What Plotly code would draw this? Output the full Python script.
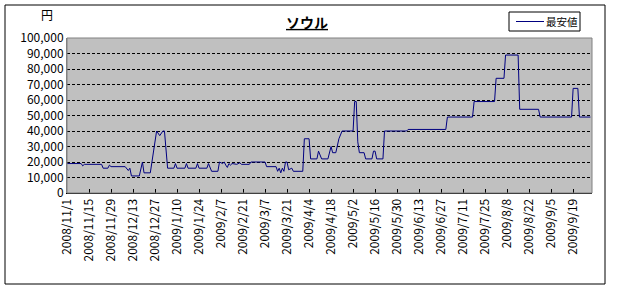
import plotly.graph_objects as go

dates = [
    "2008-11-01", "2008-11-10", "2008-11-11", "2008-11-12", "2008-11-23", "2008-11-24",
    "2008-11-27", "2008-11-28", "2008-11-29", "2008-12-08", "2008-12-10", "2008-12-11",
    "2008-12-12", "2008-12-17", "2008-12-19", "2008-12-20", "2008-12-24", "2008-12-25",
    "2008-12-26", "2008-12-28", "2008-12-30", "2009-01-01", "2009-01-02", "2009-01-04",
    "2009-01-08", "2009-01-09", "2009-01-10", "2009-01-15", "2009-01-16", "2009-01-17",
    "2009-01-22", "2009-01-23", "2009-01-24", "2009-01-29", "2009-01-30", "2009-01-31",
    "2009-02-01", "2009-02-05", "2009-02-06", "2009-02-08", "2009-02-09", "2009-02-10",
    "2009-02-11", "2009-02-12", "2009-02-13", "2009-02-14", "2009-02-17", "2009-02-19",
    "2009-02-20", "2009-02-25", "2009-02-26", "2009-03-07", "2009-03-08", "2009-03-14",
    "2009-03-15", "2009-03-16", "2009-03-17", "2009-03-18", "2009-03-19", "2009-03-20",
    "2009-03-21", "2009-03-22", "2009-03-24", "2009-03-25", "2009-03-31", "2009-04-01",
    "2009-04-04", "2009-04-05", "2009-04-09", "2009-04-10", "2009-04-12", "2009-04-16",
    "2009-04-18", "2009-04-19", "2009-04-21", "2009-04-23", "2009-04-25", "2009-05-02",
    "2009-05-03", "2009-05-04", "2009-05-05", "2009-05-06", "2009-05-09", "2009-05-10",
    "2009-05-14", "2009-05-15", "2009-05-16", "2009-05-17", "2009-05-21", "2009-05-22",
    "2009-06-05", "2009-06-06", "2009-06-30", "2009-07-01", "2009-07-17", "2009-07-18",
    "2009-07-31", "2009-08-01", "2009-08-06", "2009-08-07", "2009-08-15", "2009-08-16",
    "2009-08-28", "2009-08-29", "2009-09-18", "2009-09-19", "2009-09-22", "2009-09-23",
    "2009-09-30",
]
prices = [
    19000, 19000, 17500, 18500, 18500, 16000,
    16000, 18000, 17000, 17000, 14500, 16000,
    11000, 11000, 20000, 13000, 13000, 20000,
    28000, 40000, 37000, 40000, 40000, 16000,
    16000, 19000, 16000, 16000, 19000, 16000,
    16000, 19000, 16000, 16000, 19000, 16000,
    14000, 14000, 20000, 19000, 20000, 18000,
    16500, 19000, 18000, 19000, 18500, 19500,
    18500, 18500, 20000, 20000, 17000, 17000,
    14000, 16000, 13000, 16000, 14000, 20000,
    20000, 15000, 16000, 14000, 14000, 35000,
    35000, 22000, 22000, 27000, 22000, 22000,
    30000, 26000, 26000, 35000, 40000, 40000,
    59000, 59000, 33000, 26000, 26000, 22000,
    22000, 27000, 27000, 22000, 22000, 40000,
    40000, 41000, 41000, 49000, 49000, 59000,
    59000, 74000, 74000, 89000, 89000, 54000,
    54000, 49000, 49000, 67500, 67500, 49000,
    49000,
]

title_text = "ソウル"
series_name = "最安値"
y_unit = "円"

FONT = "Noto Sans CJK JP"
LINE_COLOR = "#000080"

W, H = 617, 290
L, R, T, B = 67, 25, 38, 97
pw, ph = W - L - R, H - T - B

def px_x(x):
    return (x - L) / pw

def px_y(y):
    return (H - B - y) / ph

fig = go.Figure()
fig.add_trace(go.Scatter(
    x=dates, y=prices, mode="lines", name=series_name,
    line=dict(color=LINE_COLOR, width=1), showlegend=False,
))

fig.update_layout(
    width=W, height=H,
    margin=dict(l=L, r=R, t=T, b=B),
    paper_bgcolor="white",
    plot_bgcolor="#C0C0C0",
    font=dict(family=FONT, size=12, color="black"),
    title=dict(text="<b><u>" + title_text + "</u></b>", x=307 / W, xanchor="center",
               y=1 - 23 / H, yanchor="middle", font=dict(size=14, family=FONT)),
    showlegend=False,
    xaxis=dict(
        type="date",
        range=["2008-11-01", "2009-10-01"],
        tick0="2008-11-01", dtick=14 * 86400000,
        tickformat="%Y/%-m/%-d", tickangle=-90,
        ticks="inside", ticklen=4, tickcolor="black",
        showgrid=False, showline=True, linecolor="black", linewidth=1,
        zeroline=False, tickfont=dict(size=12, family=FONT),
    ),
    yaxis=dict(
        range=[0, 100000], dtick=10000, tickformat=",",
        showgrid=True, gridcolor="black", griddash="3px,2px", gridwidth=1,
        showline=True, linecolor="#808080", linewidth=1,
        zeroline=False, ticks="", tickfont=dict(size=12, family=FONT),
    ),
)

# plot area border
fig.add_shape(type="rect", xref="paper", yref="paper", x0=0, y0=0, x1=1, y1=1,
              line=dict(color="#808080", width=1), fillcolor="rgba(0,0,0,0)", layer="above")
# outer chart border
fig.add_shape(type="rect", xref="paper", yref="paper",
              x0=px_x(5), x1=px_x(605), y0=px_y(284), y1=px_y(5),
              line=dict(color="black", width=1), fillcolor="rgba(0,0,0,0)")

# legend box (drawn manually to match the compact Excel legend)
fig.add_shape(type="rect", xref="paper", yref="paper",
              x0=px_x(509), x1=px_x(580), y0=px_y(31), y1=px_y(12),
              line=dict(color="black", width=1), fillcolor="white")
fig.add_shape(type="line", xref="paper", yref="paper",
              x0=px_x(516), x1=px_x(544), y0=px_y(21.5), y1=px_y(21.5),
              line=dict(color=LINE_COLOR, width=1))
fig.add_annotation(text=series_name, xref="paper", yref="paper", x=px_x(544), y=px_y(21.5),
                   showarrow=False, xanchor="left", yanchor="middle",
                   font=dict(size=10.5, family=FONT))

fig.add_annotation(text=y_unit, xref="paper", yref="paper", x=px_x(47), y=px_y(15),
                   showarrow=False, xanchor="center", yanchor="middle",
                   font=dict(size=12, family=FONT))

fig.write_html("out.html")
